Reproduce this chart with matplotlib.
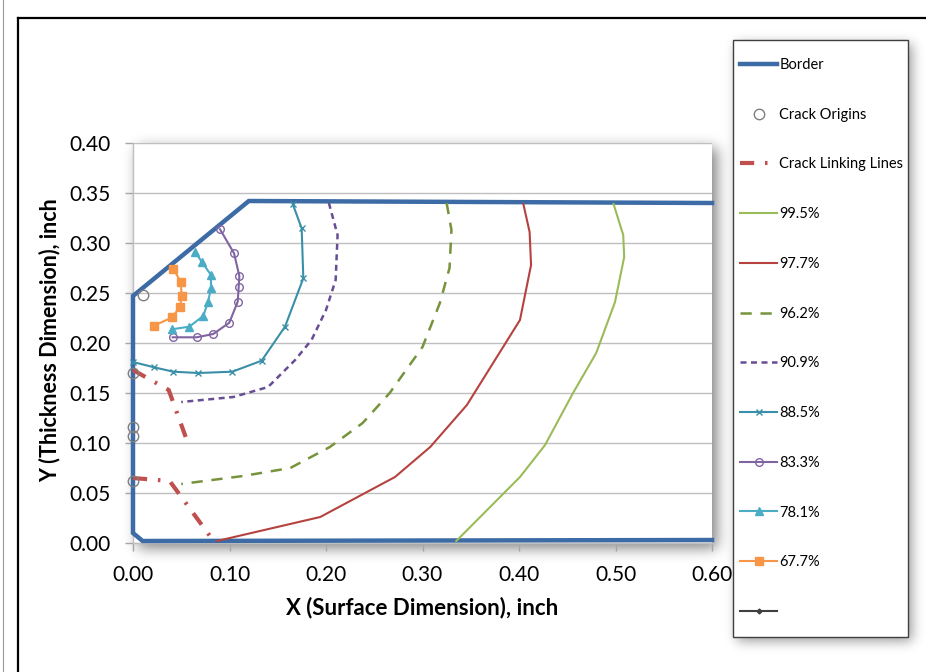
import numpy as np
import matplotlib
matplotlib.use("Agg")
import matplotlib.pyplot as plt
from matplotlib.lines import Line2D
from matplotlib.patches import Rectangle

plt.rcParams['font.family'] = ['Lato', 'DejaVu Sans']

# ---------------- data ----------------
border_x = [0.600, 0.120, 0.000, 0.000, 0.010, 0.600]
border_y = [0.340, 0.342, 0.247, 0.010, 0.002, 0.003]

origins_x = [0.010, 0.000, 0.000, 0.000, 0.000]
origins_y = [0.248, 0.170, 0.116, 0.107, 0.062]

link1_x = [0.000, 0.037, 0.058]
link1_y = [0.173, 0.153, 0.097]
link2_x = [0.000, 0.038, 0.085]
link2_y = [0.065, 0.062, 0.000]

c995_x = [0.498, 0.508, 0.509, 0.4995, 0.480, 0.456, 0.427, 0.401, 0.335]
c995_y = [0.339, 0.308, 0.286, 0.241, 0.190, 0.150, 0.098, 0.066, 0.002]

c977_x = [0.4045, 0.411, 0.4125, 0.401, 0.346, 0.308, 0.2715, 0.194, 0.087]
c977_y = [0.339, 0.311, 0.278, 0.223, 0.138, 0.096, 0.066, 0.026, 0.002]

c962_x = [0.325, 0.330, 0.328, 0.318, 0.300, 0.266, 0.238, 0.204, 0.163, 0.114, 0.050]
c962_y = [0.340, 0.313, 0.275, 0.240, 0.196, 0.150, 0.120, 0.096, 0.075, 0.067, 0.059]

c909_x = [0.203, 0.212, 0.210, 0.200, 0.185, 0.168, 0.140, 0.104, 0.050]
c909_y = [0.340, 0.308, 0.263, 0.233, 0.203, 0.183, 0.156, 0.146, 0.141]

c885_x = [0.1655, 0.1748, 0.1765, 0.1575, 0.1333, 0.1029, 0.0677, 0.0418, 0.0218, 0.000]
c885_y = [0.339, 0.3147, 0.2647, 0.2163, 0.1823, 0.1713, 0.170, 0.1713, 0.1757, 0.181]

c833_x = [0.0902, 0.1047, 0.1102, 0.1095, 0.1085, 0.0998, 0.0832, 0.0660, 0.0411]
c833_y = [0.3137, 0.2897, 0.267, 0.2557, 0.2413, 0.2203, 0.209, 0.2057, 0.2057]

c781_x = [0.0642, 0.0712, 0.0808, 0.0808, 0.0777, 0.0728, 0.0583, 0.0401]
c781_y = [0.2913, 0.2813, 0.268, 0.2547, 0.241, 0.227, 0.2163, 0.2137]

c677_x = [0.0418, 0.0494, 0.0505, 0.0487, 0.0407, 0.0218]
c677_y = [0.274, 0.2613, 0.247, 0.2363, 0.2257, 0.2173]

extra_x = []
extra_y = []

legend_labels = ["Border", "Crack Origins", "Crack Linking Lines", "99.5%", "97.7%",
                 "96.2%", "90.9%", "88.5%", "83.3%", "78.1%", "67.7%", ""]
x_ticks = [0.0, 0.1, 0.2, 0.3, 0.4, 0.5, 0.6]
y_ticks = [0.0, 0.05, 0.10, 0.15, 0.20, 0.25, 0.30, 0.35, 0.40]

# ---------------- figure ----------------
W, H = 926, 672
fig = plt.figure(figsize=(W / 100, H / 100), dpi=100)
fig.patch.set_facecolor('white')


def px_x(v):
    return v / W


def px_y(v):
    return 1 - v / H


# soft shadows (decoration)
def shadow(x0, y0, x1, y1, off, sigma, strength):
    m = np.zeros((H, W))
    m[int(y0 + off):int(y1 + off), int(x0 + off):int(x1 + off)] = 1.0
    r = int(3 * sigma)
    k = np.exp(-0.5 * (np.arange(-r, r + 1) / sigma) ** 2)
    k /= k.sum()
    m = np.apply_along_axis(lambda row: np.convolve(row, k, mode='same'), 1, m)
    m = np.apply_along_axis(lambda col: np.convolve(col, k, mode='same'), 0, m)
    return m * strength


alpha = shadow(133, 143, 712, 543, 5, 7, 0.5) + shadow(733, 40, 908, 637, 4, 6, 0.4)
alpha = np.clip(alpha, 0, 1)
rgba = np.zeros((H, W, 4))
rgba[..., 3] = alpha
fig.figimage(rgba, xo=0, yo=0, origin='upper', zorder=1)

ax = fig.add_axes([px_x(133), px_y(543), (712 - 133) / W, 400 / H])
ax.set_zorder(2)
ax.set_facecolor('white')

ax.plot(border_x, border_y, color='#3C6BA5', lw=3.2, solid_joinstyle='miter', clip_on=False, zorder=3)
ax.plot(origins_x, origins_y, ls='none', marker='o', ms=7.5, mfc='none', mec='#7F7F7F', mew=1.0,
        clip_on=False, zorder=6)
link_style = dict(color='#C0504D', lw=3, dashes=(3.4, 2.6, 0.6, 2.6), dash_capstyle='butt', zorder=5,
                  clip_on=False)
ax.plot(link1_x, link1_y, **link_style)
ax.plot(link2_x, link2_y, **link_style)

ax.plot(c995_x, c995_y, color='#9BBB59', lw=1.5, zorder=4)
ax.plot(c977_x, c977_y, color='#B5423F', lw=1.5, zorder=4)
ax.plot(c962_x, c962_y, color='#77933C', lw=1.8, dashes=(4.5, 3.5), zorder=4)
ax.plot(c909_x, c909_y, color='#674D96', lw=1.8, dashes=(2.4, 1.8), zorder=4)
ax.plot(c885_x, c885_y, color='#3A8FA8', lw=1.5, marker='x', ms=5, mew=1.0, zorder=4, clip_on=False)
ax.plot(c833_x, c833_y, color='#8064A2', lw=1.5, marker='o', ms=5.5, mfc='none', mew=1.0, zorder=4)
ax.plot(c781_x, c781_y, color='#4BACC6', lw=1.5, marker='^', ms=5.5, zorder=4)
ax.plot(c677_x, c677_y, color='#F79646', lw=1.5, marker='s', ms=5.5, zorder=4)
ax.plot(extra_x, extra_y, color='#404040', lw=1.5, marker='D', ms=2.5, zorder=4)

ax.set_xlim(0, 0.6)
ax.set_ylim(0, 0.4)
ax.set_xticks(x_ticks)
ax.set_yticks(y_ticks)
ax.set_xticklabels([f"{v:.2f}" for v in x_ticks])
ax.set_yticklabels([f"{v:.2f}" for v in y_ticks])
ax.tick_params(axis='both', labelsize=15, length=6, width=1, color='#A6A6A6', direction='out')
ax.tick_params(axis='y', pad=10)
ax.tick_params(axis='x', pad=10)
ax.yaxis.grid(True, color='#BFBFBF', lw=1)
ax.set_axisbelow(True)
for s in ['top', 'right']:
    ax.spines[s].set_visible(False)
for s in ['left', 'bottom']:
    ax.spines[s].set_color('#BFBFBF')
    ax.spines[s].set_linewidth(1)

fig.text(px_x(422), px_y(608), "X (Surface Dimension), inch", ha='center', va='center',
         fontsize=16, fontweight='bold')
fig.text(px_x(50), px_y(340), "Y (Thickness Dimension), inch", ha='center', va='center',
         rotation=90, fontsize=15.5, fontweight='bold')

# legend frame
fig.add_artist(Rectangle((px_x(733), px_y(637)), 175 / W, 597 / H, transform=fig.transFigure,
                         facecolor='white', edgecolor='#404040', lw=1, zorder=3))
handles = ax.get_lines()
handles = [handles[0], handles[1], handles[2]] + list(handles[4:])
leg = fig.legend(handles, legend_labels, loc='upper left',
                 bbox_to_anchor=(px_x(740), px_y(58)), frameon=False, borderpad=0,
                 borderaxespad=0, fontsize=10.5, labelspacing=2.45, handlelength=2.55,
                 handletextpad=0.15)
leg.set_zorder(4)

# outer frame lines
fig.add_artist(Line2D([px_x(18), px_x(18)], [0, px_y(18)], transform=fig.transFigure,
                      color='black', lw=1.6, zorder=5))
fig.add_artist(Line2D([px_x(18), 1], [px_y(18), px_y(18)], transform=fig.transFigure,
                      color='black', lw=1.6, zorder=5))
fig.add_artist(Line2D([px_x(2.5), px_x(2.5)], [0, 1], transform=fig.transFigure,
                      color='#9A9A9A', lw=0.8, zorder=5))

fig.savefig("out.png", dpi=100)
